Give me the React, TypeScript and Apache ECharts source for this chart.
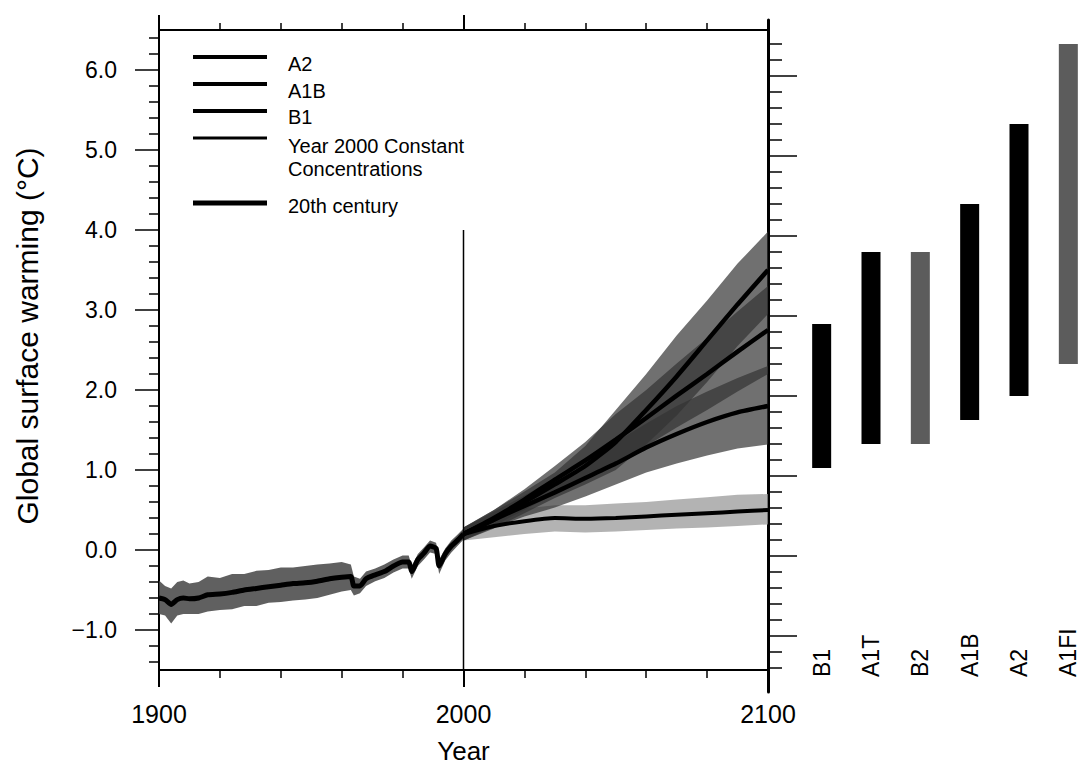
import React, { useEffect, useRef } from "react";
import * as echarts from "echarts";

// ---------- 20th century simulations ----------
const c20Years = [1900, 1902, 1904, 1906, 1908, 1910, 1913, 1916, 1920, 1924, 1928, 1932, 1936, 1940, 1944, 1948, 1952, 1956, 1960, 1963, 1964, 1966, 1968, 1971, 1974, 1977, 1980, 1982, 1983, 1985, 1987, 1989, 1991, 1992, 1994, 1996, 1998, 2000];
const c20Mean = [-0.6, -0.62, -0.68, -0.62, -0.6, -0.61, -0.6, -0.56, -0.55, -0.53, -0.5, -0.48, -0.46, -0.44, -0.42, -0.41, -0.39, -0.36, -0.34, -0.33, -0.45, -0.45, -0.36, -0.31, -0.27, -0.2, -0.15, -0.15, -0.27, -0.12, -0.04, 0.05, 0.02, -0.2, -0.05, 0.05, 0.12, 0.2];
const c20High = [-0.38, -0.45, -0.48, -0.4, -0.38, -0.42, -0.4, -0.33, -0.35, -0.3, -0.3, -0.26, -0.25, -0.22, -0.22, -0.2, -0.18, -0.17, -0.15, -0.18, -0.33, -0.36, -0.27, -0.23, -0.18, -0.12, -0.07, -0.07, -0.2, -0.05, 0.03, 0.12, 0.09, -0.12, 0.02, 0.12, 0.19, 0.27];
const c20Low = [-0.8, -0.82, -0.92, -0.82, -0.8, -0.8, -0.8, -0.77, -0.75, -0.74, -0.7, -0.7, -0.66, -0.65, -0.63, -0.62, -0.6, -0.56, -0.52, -0.5, -0.57, -0.54, -0.45, -0.39, -0.35, -0.28, -0.23, -0.23, -0.36, -0.2, -0.12, -0.03, -0.05, -0.3, -0.13, -0.03, 0.05, 0.13];

// ---------- 21st century projections ----------
const futureYears = [2000, 2010, 2020, 2030, 2040, 2050, 2060, 2070, 2080, 2090, 2100];
const a2Mean = [0.2, 0.38, 0.6, 0.82, 1.05, 1.35, 1.75, 2.17, 2.62, 3.07, 3.5];
const a2High = [0.28, 0.5, 0.73, 0.97, 1.3, 1.75, 2.2, 2.68, 3.12, 3.58, 3.98];
const a2Low = [0.12, 0.27, 0.46, 0.65, 0.82, 1.0, 1.32, 1.68, 2.1, 2.55, 2.95];
const a1bMean = [0.2, 0.4, 0.63, 0.88, 1.12, 1.38, 1.65, 1.93, 2.2, 2.48, 2.75];
const a1bHigh = [0.28, 0.5, 0.76, 1.05, 1.35, 1.7, 2.0, 2.33, 2.65, 2.98, 3.3];
const a1bLow = [0.12, 0.3, 0.5, 0.7, 0.9, 1.1, 1.3, 1.53, 1.75, 1.98, 2.2];
const b1Mean = [0.2, 0.38, 0.55, 0.72, 0.9, 1.08, 1.28, 1.45, 1.6, 1.72, 1.8];
const b1High = [0.28, 0.48, 0.68, 0.9, 1.12, 1.35, 1.58, 1.8, 1.98, 2.15, 2.3];
const b1Low = [0.12, 0.28, 0.42, 0.53, 0.67, 0.82, 0.97, 1.08, 1.18, 1.27, 1.32];
const constMean = [0.2, 0.3, 0.36, 0.4, 0.39, 0.4, 0.42, 0.44, 0.46, 0.48, 0.5];
const constHigh = [0.28, 0.45, 0.52, 0.56, 0.56, 0.58, 0.6, 0.63, 0.66, 0.69, 0.7];
const constLow = [0.12, 0.16, 0.2, 0.23, 0.22, 0.23, 0.25, 0.27, 0.28, 0.3, 0.32];

const dividerLine = [[2000, 4.0], [2000, -1.5]];

// ---------- likely ranges by 2090-2099 ----------
const scenarioNames = ["B1", "A1T", "B2", "A1B", "A2", "A1FI"];
const scenarioLow = [1.1, 1.4, 1.4, 1.7, 2.0, 2.4];
const scenarioHigh = [2.9, 3.8, 3.8, 4.4, 5.4, 6.4];
const grayScenarios = ["B2", "A1FI"];

// ---------- ticks ----------
const yMajorTicks = [-1, 0, 1, 2, 3, 4, 5, 6];
const yMinorTicks = [-1.4, -1.2, -0.8, -0.6, -0.4, -0.2, 0.2, 0.4, 0.6, 0.8, 1.2, 1.4, 1.6, 1.8, 2.2, 2.4, 2.6, 2.8, 3.2, 3.4, 3.6, 3.8, 4.2, 4.4, 4.6, 4.8, 5.2, 5.4, 5.6, 5.8, 6.2, 6.4];
const xLabelYears = [1900, 2000, 2100];
const xTopMajor = [1900, 2000];

const legendLines = [
  { label: "A2", width: 4 },
  { label: "A1B", width: 4 },
  { label: "B1", width: 4 },
  { label: "Year 2000 Constant", width: 3 },
  { label: "20th century", width: 5 },
];
const legendExtraText = "Concentrations";

const FONT = "Liberation Sans, Arial, Helvetica, sans-serif";

function zip(xs: number[], ys: number[]) {
  return xs.map((x, i) => [x, ys[i]]);
}

function band(name: string, xs: number[], lo: number[], hi: number[], fill: string, opacity: number, z: number) {
  return {
    type: "custom",
    name,
    xAxisIndex: 0,
    yAxisIndex: 0,
    z,
    silent: true,
    clip: true,
    data: [[xs[0], lo[0]]],
    renderItem: (_params: any, api: any) => {
      const pts: number[][] = [];
      for (let i = 0; i < xs.length; i++) pts.push(api.coord([xs[i], hi[i]]));
      for (let i = xs.length - 1; i >= 0; i--) pts.push(api.coord([xs[i], lo[i]]));
      return { type: "polygon", shape: { points: pts }, style: { fill, opacity } };
    },
  };
}

function meanLine(name: string, xs: number[], ys: number[], width: number) {
  return {
    type: "line",
    name,
    xAxisIndex: 0,
    yAxisIndex: 0,
    data: zip(xs, ys),
    showSymbol: false,
    smooth: 0.2,
    z: 10,
    lineStyle: { color: "#000", width },
    silent: true,
  };
}

export default function App() {
  const ref = useRef<HTMLDivElement>(null);

  useEffect(() => {
    if (!ref.current) return;
    const chart = echarts.init(ref.current, undefined, { renderer: "svg" });

    const tickStyle = { color: "#000", width: 1.5 };
    const legendY = [57, 84, 111, 138, 203];
    const legendTextY = [64, 91, 117, 146, 206];
    const graphics: any[] = [];
    legendLines.forEach((it, i) => {
      graphics.push({
        type: "line",
        shape: { x1: 193, y1: legendY[i], x2: 267, y2: legendY[i] },
        style: { stroke: "#000", lineWidth: it.width },
      });
      graphics.push({
        type: "text",
        x: 288,
        y: legendTextY[i],
        style: {
          text: it.label,
          font: `20px ${FONT}`,
          fill: "#000",
          textVerticalAlign: "middle",
        },
      });
    });
    graphics.push({
      type: "text",
      x: 288,
      y: 169,
      style: {
        text: legendExtraText,
        font: `20px ${FONT}`,
        fill: "#000",
        textVerticalAlign: "middle",
      },
    });
    graphics.push({
      type: "text",
      x: 27,
      y: 336,
      rotation: Math.PI / 2,
      style: {
        text: "Global surface warming (°C)",
        font: `30px ${FONT}`,
        fill: "#000",
        textAlign: "center",
        textVerticalAlign: "middle",
      },
    });

    const blackLine = { color: "#000", width: 2 };

    const option: any = {
      animation: false,
      backgroundColor: "#fff",
      graphic: graphics,
      grid: [
        { left: 159, right: 310, top: 30, height: 640, containLabel: false, outerBoundsMode: "none" },
        { left: 797, top: 20, height: 672, width: 296, containLabel: false, outerBoundsMode: "none" },
      ],
      xAxis: [
        {
          type: "value",
          gridIndex: 0,
          position: "bottom",
          min: 1900,
          max: 2100,
          interval: 20,
          name: "Year",
          nameLocation: "middle",
          nameGap: 68,
          nameTextStyle: { fontSize: 26, fontFamily: FONT, color: "#000" },
          axisLine: { show: true, onZero: false, lineStyle: blackLine },
          axisTick: { show: true, length: 8, lineStyle: tickStyle },
          axisLabel: {
            customValues: xLabelYears,
            margin: 31,
            fontSize: 25,
            fontFamily: FONT,
            color: "#000",
            formatter: (v: number) => String(v),
          },
          splitLine: { show: false },
        },
        {
          type: "value",
          gridIndex: 0,
          position: "bottom",
          min: 1900,
          max: 2100,
          axisLine: { show: false, onZero: false },
          axisTick: { show: true, customValues: xLabelYears, length: 17, lineStyle: blackLine },
          axisLabel: { show: false },
          splitLine: { show: false },
        },
        {
          type: "value",
          gridIndex: 0,
          position: "top",
          min: 1900,
          max: 2100,
          interval: 20,
          axisLine: { show: true, onZero: false, lineStyle: blackLine },
          axisTick: { show: true, length: 7, lineStyle: tickStyle },
          axisLabel: { show: false },
          splitLine: { show: false },
        },
        {
          type: "value",
          gridIndex: 0,
          position: "top",
          min: 1900,
          max: 2100,
          axisLine: { show: false, onZero: false },
          axisTick: { show: true, customValues: xTopMajor, length: 15, lineStyle: blackLine },
          axisLabel: { show: false },
          splitLine: { show: false },
        },
        {
          type: "category",
          gridIndex: 1,
          data: scenarioNames,
          axisLine: { show: false, onZero: false },
          axisTick: { show: false },
          axisLabel: {
            inside: true,
            rotate: 90,
            margin: 15,
            fontSize: 23,
            lineHeight: 18,
            fontFamily: FONT,
            color: "#000",
          },
          splitLine: { show: false },
        },
      ],
      yAxis: [
        {
          type: "value",
          gridIndex: 0,
          position: "left",
          min: -1.5,
          max: 6.5,
          axisLine: { show: true, onZero: false, lineStyle: blackLine },
          axisTick: { show: true, customValues: yMajorTicks, length: 24, lineStyle: tickStyle },
          axisLabel: {
            customValues: yMajorTicks,
            margin: 42,
            fontSize: 23,
            fontFamily: FONT,
            color: "#000",
            formatter: (v: number) => (v < 0 ? "\u2212" + Math.abs(v).toFixed(1) : v.toFixed(1)),
          },
          splitLine: { show: false },
        },
        {
          type: "value",
          gridIndex: 0,
          position: "left",
          min: -1.5,
          max: 6.5,
          axisLine: { show: false, onZero: false },
          axisTick: { show: true, customValues: yMinorTicks, length: 10, lineStyle: tickStyle },
          axisLabel: { show: false },
          splitLine: { show: false },
        },
        {
          type: "value",
          gridIndex: 1,
          position: "left",
          offset: 29,
          min: -1.7,
          max: 6.7,
          axisLine: { show: true, onZero: false, lineStyle: { color: "#000", width: 3 } },
          axisTick: { show: true, inside: true, customValues: yMajorTicks, length: 29, lineStyle: tickStyle },
          axisLabel: { show: false },
          splitLine: { show: false },
        },
        {
          type: "value",
          gridIndex: 1,
          position: "left",
          offset: 29,
          min: -1.7,
          max: 6.7,
          axisLine: { show: false, onZero: false },
          axisTick: { show: true, inside: true, customValues: yMinorTicks, length: 14, lineStyle: tickStyle },
          axisLabel: { show: false },
          splitLine: { show: false },
        },
      ],
      series: [
        band("20th century range", c20Years, c20Low, c20High, "#444", 0.85, 1),
        band("Constant range", futureYears, constLow, constHigh, "#999", 0.75, 1),
        band("B1 range", futureYears, b1Low, b1High, "#333", 0.7, 2),
        band("A1B range", futureYears, a1bLow, a1bHigh, "#333", 0.7, 2),
        band("A2 range", futureYears, a2Low, a2High, "#333", 0.7, 2),
        meanLine("20th century", c20Years, c20Mean, 5),
        meanLine("Year 2000 Constant Concentrations", futureYears, constMean, 4),
        meanLine("B1", futureYears, b1Mean, 4.5),
        meanLine("A1B", futureYears, a1bMean, 4.5),
        meanLine("A2", futureYears, a2Mean, 4.5),
        {
          type: "line",
          name: "divider",
          xAxisIndex: 0,
          yAxisIndex: 0,
          data: dividerLine,
          showSymbol: false,
          lineStyle: { color: "#000", width: 1.5 },
          z: 11,
          silent: true,
        },
        {
          type: "bar",
          name: "base",
          xAxisIndex: 4,
          yAxisIndex: 2,
          stack: "range",
          barWidth: 19,
          silent: true,
          itemStyle: { color: "transparent" },
          data: scenarioLow,
        },
        {
          type: "bar",
          name: "likely range",
          xAxisIndex: 4,
          yAxisIndex: 2,
          stack: "range",
          barWidth: 19,
          silent: true,
          data: scenarioNames.map((n, i) => ({
            value: scenarioHigh[i] - scenarioLow[i],
            itemStyle: { color: grayScenarios.includes(n) ? "#5c5c5c" : "#000" },
          })),
        },
      ],
    };

    chart.setOption(option);
    return () => chart.dispose();
  }, []);

  return (
    <div
      style={{
        position: "fixed",
        left: 0,
        top: 0,
        width: 1078,
        height: 767,
        overflow: "hidden",
        background: "#fff",
      }}
    >
      <div ref={ref} style={{ width: 1078, height: 767 }} />
    </div>
  );
}
